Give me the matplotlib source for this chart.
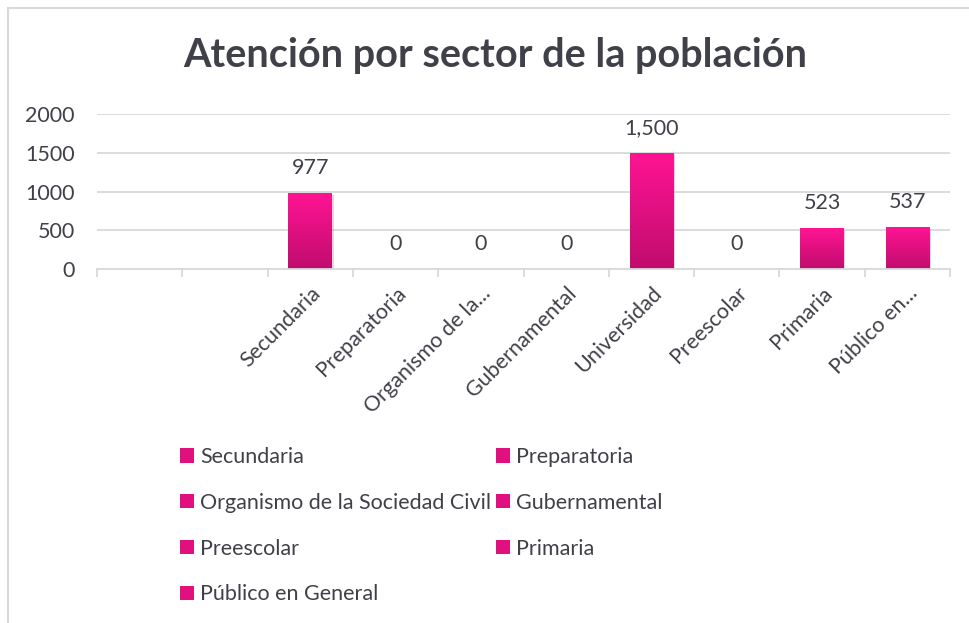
import numpy as np
import matplotlib
matplotlib.use("Agg")
import matplotlib.pyplot as plt
from matplotlib.patches import Patch
from matplotlib.lines import Line2D
import matplotlib.patheffects as pe

plt.rcParams['font.family'] = ['Lato', 'DejaVu Sans']

# ---- data ----
categories = ['', '', 'Secundaria', 'Preparatoria', 'Organismo de la Sociedad Civil',
              'Gubernamental', 'Universidad', 'Preescolar', 'Primaria', 'Público en General']
tick_labels = ['', '', 'Secundaria', 'Preparatoria', 'Organismo de la...',
               'Gubernamental', 'Universidad', 'Preescolar', 'Primaria', 'Público en...']
values = [np.nan, np.nan, 977, 0, 0, 0, 1500, 0, 523, 537]
legend_labels = ['Secundaria', 'Organismo de la Sociedad Civil', 'Preescolar',
                 'Público en General', 'Preparatoria', 'Gubernamental', 'Primaria']
title = 'Atención por sector de la población'

TEXT = '#404049'
GRID = '#D9D9D9'
TOP_C = np.array([255, 20, 147]) / 255
BOT_C = np.array([192, 12, 110]) / 255
FS = 15.5

W, H = 970, 623
fig = plt.figure(figsize=(W / 100, H / 100), dpi=100)
ax = fig.add_axes([97 / W, 1 - 269 / H, (950 - 97) / W, (269 - 114) / H])

x = np.arange(len(categories))
vals = np.array(values, dtype=float)
bars = ax.bar(x, np.nan_to_num(vals), width=0.51, color=TOP_C, zorder=2,
              path_effects=[pe.SimplePatchShadow(offset=(1.2, -1.2), shadow_rgbFace='#999999', alpha=0.35),
                            pe.Normal()])

ax.set_xlim(-0.5, len(categories) - 0.5)
ax.set_ylim(0, 2000)
ax.set_yticks([0, 500, 1000, 1500, 2000])

# gradient fill
grad = np.linspace(0, 1, 128)[:, None]
img = (BOT_C[None, :] * (1 - grad) + TOP_C[None, :] * grad)[:, None, :]
for b, v in zip(bars, vals):
    if np.isnan(v) or v <= 0:
        continue
    x0, w, h = b.get_x(), b.get_width(), b.get_height()
    im = ax.imshow(img, extent=(x0, x0 + w, 0, h), origin='lower', aspect='auto',
                   zorder=3, interpolation='bilinear')
    im.set_clip_path(b)
ax.set_xlim(-0.5, len(categories) - 0.5)
ax.set_ylim(0, 2000)

# value labels
for xi, v in zip(x, vals):
    if np.isnan(v):
        continue
    ax.annotate(f"{v:,.0f}", (xi, v), xytext=(0, 18), textcoords='offset points',
                ha='center', va='center', fontsize=FS, color=TEXT)

# grid & spines
ax.yaxis.grid(True, color=GRID, lw=1.3, zorder=0)
ax.set_axisbelow(True)
for s in ['top', 'right', 'left']:
    ax.spines[s].set_visible(False)
ax.spines['bottom'].set_color(GRID)
ax.spines['bottom'].set_linewidth(1.3)
ax.spines['bottom'].set_zorder(4)

ax.tick_params(axis='y', length=0, pad=16, labelsize=FS, labelcolor=TEXT)
ax.set_xticks(x)
ax.set_xticklabels(tick_labels, rotation=45, ha='right', rotation_mode='anchor',
                   fontsize=FS, color=TEXT)
ax.tick_params(axis='x', which='major', length=0, pad=10)
ax.set_xticks(np.arange(len(categories) + 1) - 0.5, minor=True)
ax.tick_params(axis='x', which='minor', length=6, width=1.3, color=GRID)

# title
fig.text(495 / W, 1 - 55 / H, title, ha='center', va='center', fontsize=28.5,
         fontweight='bold', color=TEXT)

# chart border (top & left visible)
fig.add_artist(Line2D([8 / W, 1], [1 - 8 / H, 1 - 8 / H], color=GRID, lw=1.5))
fig.add_artist(Line2D([8.5 / W, 8.5 / W], [0, 1 - 8 / H], color=GRID, lw=1.5))

# legend
handles = [Patch(facecolor='#E0117F', edgecolor='none', label=l) for l in legend_labels]
fig.legend(handles=handles, loc='upper left', bbox_to_anchor=(180 / W, 1 - 447 / H),
           ncol=2, frameon=False, fontsize=FS, labelcolor=TEXT, handlelength=0.65,
           handleheight=0.65, handletextpad=0.3, columnspacing=0.2, labelspacing=1.2,
           borderpad=0, borderaxespad=0)

fig.savefig('out.png', dpi=100, facecolor='white')
